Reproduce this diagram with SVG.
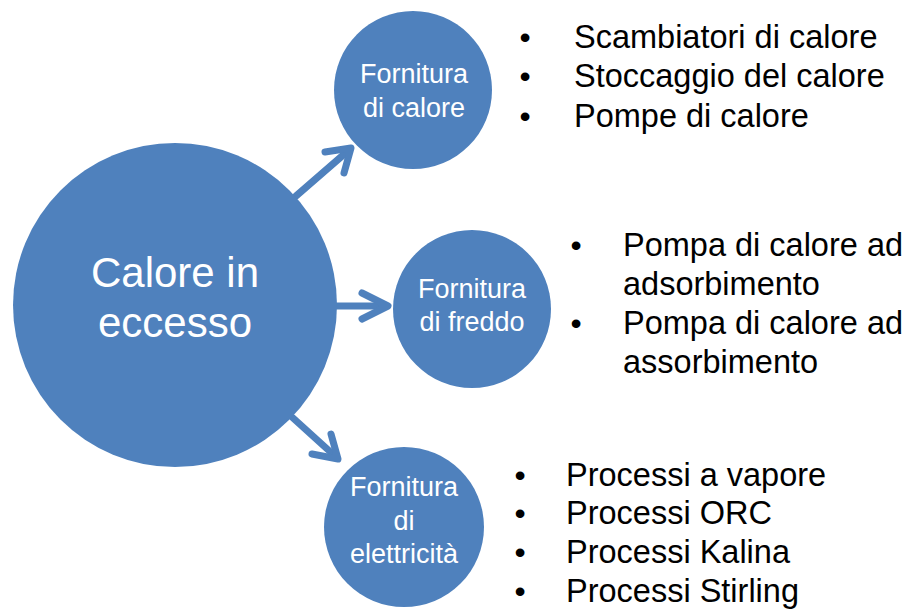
<svg xmlns="http://www.w3.org/2000/svg" width="907" height="609" viewBox="0 0 907 609">
<style>
.node{fill:#4F81BD;}
.nt{fill:#FFFFFF;font-family:"Liberation Sans",Arial,sans-serif;text-anchor:middle;}
.lt{fill:#000000;font-family:"Liberation Sans",Arial,sans-serif;font-size:32.5px;}
.bl{fill:#000000;font-family:"Liberation Sans",Arial,sans-serif;font-size:32px;text-anchor:middle;}
.arr{fill:none;stroke:#4F81BD;stroke-width:7;stroke-linecap:round;stroke-linejoin:round;}
</style>
<rect width="907" height="609" fill="#FFFFFF"/>
<g id="connectors">
<line class="arr" x1="296" y1="196" x2="349" y2="150"/>
<polyline class="arr" points="325,152 351,148 344,173"/>
<line class="arr" x1="336" y1="306" x2="386" y2="306"/>
<polyline class="arr" points="362,293 388,306 362,319"/>
<line class="arr" x1="293" y1="418" x2="336" y2="457"/>
<polyline class="arr" points="312,454 338,459 331,434"/>
</g>
<g id="node-calore-eccesso">
<circle class="node" cx="175" cy="305" r="162"/>
<text class="nt" font-size="42" x="175" y="287">Calore in</text>
<text class="nt" font-size="42" x="175" y="337">eccesso</text>
</g>
<g id="node-fornitura-calore">
<circle class="node" cx="413" cy="90" r="79"/>
<text class="nt" font-size="27" x="414" y="83">Fornitura</text>
<text class="nt" font-size="27" x="414" y="117">di calore</text>
</g>
<g id="node-fornitura-freddo">
<circle class="node" cx="472" cy="309" r="79"/>
<text class="nt" font-size="27" x="472" y="298">Fornitura</text>
<text class="nt" font-size="27" x="472" y="331">di freddo</text>
</g>
<g id="node-fornitura-elettricita">
<circle class="node" cx="404" cy="527" r="80"/>
<text class="nt" font-size="27" x="404" y="496">Fornitura</text>
<text class="nt" font-size="27" x="404" y="530">di</text>
<text class="nt" font-size="27" x="404" y="563">elettricità</text>
</g>
<g id="list-calore">
<text class="bl" x="525" y="48">•</text>
<text class="lt" x="574" y="48">Scambiatori di calore</text>
<text class="bl" x="525" y="87">•</text>
<text class="lt" x="574" y="87">Stoccaggio del calore</text>
<text class="bl" x="525" y="127">•</text>
<text class="lt" x="574" y="127">Pompe di calore</text>
</g>
<g id="list-freddo">
<text class="bl" x="576" y="256">•</text>
<text class="lt" x="623" y="256">Pompa di calore ad</text>
<text class="lt" x="623" y="295">adsorbimento</text>
<text class="bl" x="576" y="334">•</text>
<text class="lt" x="623" y="334">Pompa di calore ad</text>
<text class="lt" x="623" y="373">assorbimento</text>
</g>
<g id="list-elettricita">
<text class="bl" x="520" y="486">•</text>
<text class="lt" x="566" y="486">Processi a vapore</text>
<text class="bl" x="520" y="524">•</text>
<text class="lt" x="566" y="524">Processi ORC</text>
<text class="bl" x="520" y="563">•</text>
<text class="lt" x="566" y="563">Processi Kalina</text>
<text class="bl" x="520" y="602">•</text>
<text class="lt" x="566" y="602">Processi Stirling</text>
</g>
</svg>
